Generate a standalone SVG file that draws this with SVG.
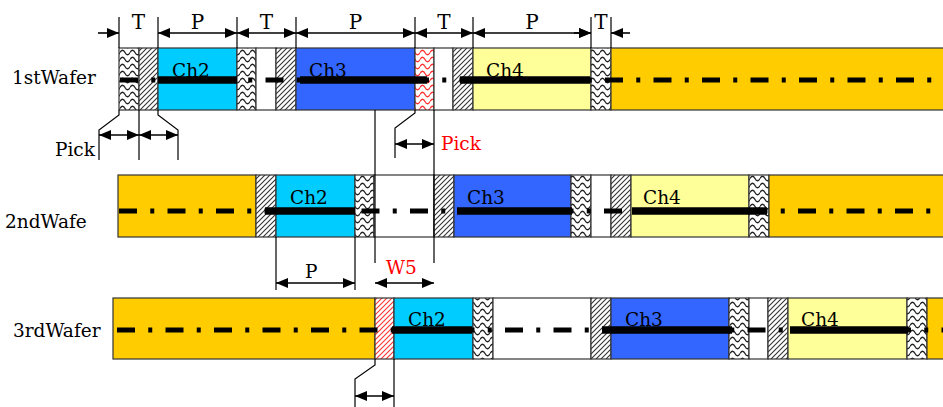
<svg xmlns="http://www.w3.org/2000/svg" width="943" height="407" viewBox="0 0 943 407">
<defs>
<pattern id="diag" patternUnits="userSpaceOnUse" width="5" height="5">
<rect width="5" height="5" fill="#fff"/>
<path d="M-1,1 L1,-1 M0,5 L5,0 M4,6 L6,4" stroke="#333" stroke-width="1.1"/>
</pattern>
<pattern id="diagRed" patternUnits="userSpaceOnUse" width="5" height="5">
<rect width="5" height="5" fill="#fff"/>
<path d="M-1,1 L1,-1 M0,5 L5,0 M4,6 L6,4" stroke="#f33" stroke-width="1.1"/>
</pattern>
<pattern id="wavy" patternUnits="userSpaceOnUse" width="10" height="7">
<rect width="10" height="7" fill="#fff"/>
<path d="M0,3.5 C1.5,0.5 3.5,0.5 5,3.5 C6.5,6.5 8.5,6.5 10,3.5" fill="none" stroke="#222" stroke-width="1.3"/>
</pattern>
<pattern id="wavyRed" patternUnits="userSpaceOnUse" width="10" height="7">
<rect width="10" height="7" fill="#fff"/>
<path d="M0,3.5 C1.5,0.5 3.5,0.5 5,3.5 C6.5,6.5 8.5,6.5 10,3.5" fill="none" stroke="#f33" stroke-width="1.3"/>
</pattern>
<marker id="ah" markerUnits="userSpaceOnUse" markerWidth="12" markerHeight="10" refX="12" refY="5" orient="auto-start-reverse">
<path d="M0,0 L12,5 L0,10 z" fill="#000"/>
</marker>
</defs>
<style>
.s{stroke:#333;stroke-width:1.2}
.w{fill:url(#wavy)}
.wr{fill:url(#wavyRed)}
.d{fill:url(#diag)}
.dr{fill:url(#diagRed)}
.cy{fill:#00CCFF}
.bl{fill:#3366FF}
.ye{fill:#FFFF99}
.or{fill:#FFCC00}
.wh{fill:#fff}
.dd{stroke:#000;stroke-width:5;stroke-dasharray:18 13.25 4 13.25;fill:none}
.bar{stroke:#000;stroke-width:7.5}
.t{font-family:"DejaVu Serif","Liberation Serif",serif;font-size:18.5px;fill:#000}
.tl{font-family:"DejaVu Serif","Liberation Serif",serif;font-size:20px;fill:#000;text-anchor:middle}
.red{fill:#FF0000}
.ln{stroke:#000;stroke-width:1.2;fill:none}
.ar{stroke:#000;stroke-width:1.6;fill:none;marker-end:url(#ah)}
.ar2{stroke:#000;stroke-width:1.6;fill:none;marker-start:url(#ah);marker-end:url(#ah)}
</style>
<rect width="943" height="407" fill="#fff"/>

<g id="labels">
<text class="t" x="12" y="84">1stWafer</text>
<text class="t" x="5" y="228">2ndWafe</text>
<text class="t" x="13" y="337">3rdWafer</text>
</g>

<g id="wafer1">
<rect class="s w" x="119" y="48" width="20" height="62"/>
<rect class="s d" x="139" y="48" width="19" height="62"/>
<g id="w1-ch2"><rect class="s cy" x="158" y="48" width="79" height="62"/><text class="t" x="172" y="77">Ch2</text></g>
<rect class="s w" x="237" y="48" width="19" height="62"/>
<rect class="s wh" x="256" y="48" width="20" height="62"/>
<rect class="s d" x="276" y="48" width="20" height="62"/>
<g id="w1-ch3"><rect class="s bl" x="296" y="48" width="119" height="62"/><text class="t" x="309" y="77">Ch3</text></g>
<rect class="s wr" x="415" y="48" width="19" height="62"/>
<rect class="s wh" x="434" y="48" width="19" height="62"/>
<rect class="s d" x="453" y="48" width="20" height="62"/>
<g id="w1-ch4"><rect class="s ye" x="473" y="48" width="118" height="62"/><text class="t" x="486" y="77">Ch4</text></g>
<rect class="s w" x="591" y="48" width="20" height="62"/>
<rect class="s or" x="611" y="48" width="334" height="62"/>
<line class="dd" x1="120" y1="80" x2="943" y2="80"/>
<line class="bar" x1="158" y1="80" x2="237" y2="80"/>
<line class="bar" x1="300" y1="80" x2="427" y2="80"/>
<line class="bar" x1="460" y1="80" x2="590" y2="80"/>
</g>

<g id="wafer2">
<rect class="s or" x="118" y="175" width="138" height="62"/>
<rect class="s d" x="256" y="175" width="20" height="62"/>
<g id="w2-ch2"><rect class="s cy" x="276" y="175" width="79" height="62"/><text class="t" x="290" y="204">Ch2</text></g>
<rect class="s w" x="355" y="175" width="19" height="62"/>
<rect class="s wh" x="374" y="175" width="60" height="62"/>
<rect class="s d" x="434" y="175" width="20" height="62"/>
<g id="w2-ch3"><rect class="s bl" x="454" y="175" width="117" height="62"/><text class="t" x="467" y="204">Ch3</text></g>
<rect class="s w" x="571" y="175" width="20" height="62"/>
<rect class="s wh" x="591" y="175" width="20" height="62"/>
<rect class="s d" x="611" y="175" width="20" height="62"/>
<g id="w2-ch4"><rect class="s ye" x="631" y="175" width="118" height="62"/><text class="t" x="643" y="204">Ch4</text></g>
<rect class="s w" x="749" y="175" width="20" height="62"/>
<rect class="s or" x="769" y="175" width="176" height="62"/>
<line class="dd" x1="119" y1="211" x2="943" y2="211"/>
<line class="bar" x1="265" y1="211" x2="355" y2="211"/>
<line class="bar" x1="457" y1="211" x2="572" y2="211"/>
<line class="bar" x1="632" y1="211" x2="767" y2="211"/>
</g>

<g id="wafer3">
<rect class="s or" x="113" y="298" width="262" height="61"/>
<rect class="s dr" x="375" y="298" width="19" height="61"/>
<g id="w3-ch2"><rect class="s cy" x="394" y="298" width="79" height="61"/><text class="t" x="408" y="326">Ch2</text></g>
<rect class="s w" x="473" y="298" width="20" height="61"/>
<rect class="s wh" x="493" y="298" width="98" height="61"/>
<rect class="s d" x="591" y="298" width="20" height="61"/>
<g id="w3-ch3"><rect class="s bl" x="611" y="298" width="118" height="61"/><text class="t" x="625" y="326">Ch3</text></g>
<rect class="s w" x="729" y="298" width="20" height="61"/>
<rect class="s wh" x="749" y="298" width="19" height="61"/>
<rect class="s d" x="768" y="298" width="20" height="61"/>
<g id="w3-ch4"><rect class="s ye" x="788" y="298" width="119" height="61"/><text class="t" x="801" y="326">Ch4</text></g>
<rect class="s w" x="907" y="298" width="20" height="61"/>
<rect class="s or" x="927" y="298" width="18" height="61"/>
<line class="dd" x1="117" y1="330" x2="943" y2="330"/>
<line class="bar" x1="392" y1="330" x2="472" y2="330"/>
<line class="bar" x1="602" y1="330" x2="732" y2="330"/>
<line class="bar" x1="790" y1="330" x2="908" y2="330"/>
</g>

<g id="connectors">
<path class="ln" d="M119,17V48 M158,17V48 M237,17V48 M296,17V48 M415,17V48 M473,17V48 M591,17V48 M611,17V48"/>
<line class="ar" x1="98" y1="33" x2="119" y2="33"/>
<line class="ar2" x1="158" y1="33" x2="237" y2="33"/>
<line class="ar2" x1="237" y1="33" x2="296" y2="33"/>
<line class="ar2" x1="296" y1="33" x2="415" y2="33"/>
<line class="ar2" x1="415" y1="33" x2="473" y2="33"/>
<line class="ar2" x1="473" y1="33" x2="591" y2="33"/>
<line class="ar" x1="574" y1="33" x2="591" y2="33"/>
<line class="ar" x1="630" y1="33" x2="611" y2="33"/>

<path class="ln" d="M119,110V115L99,130V160 M139,110V160 M158,110V115L178,130V160"/>
<line class="ar2" x1="99" y1="135" x2="139" y2="135"/>
<line class="ar2" x1="139" y1="135" x2="178" y2="135"/>

<path class="ln" d="M415,110V113L395,128V158 M434,110V263 M375,110V263"/>
<line class="ar2" x1="395" y1="144" x2="434" y2="144"/>

<path class="ln" d="M276,237V290 M355,237V290"/>
<line class="ar2" x1="276" y1="283" x2="355" y2="283"/>
<line class="ar2" x1="375" y1="283" x2="434" y2="283"/>

<path class="ln" d="M375,359V365L355,379V407 M394,359V407"/>
<line class="ar2" x1="355" y1="396" x2="394" y2="396"/>
</g>

<g id="dim-labels">
<text class="tl" x="138.5" y="29">T</text>
<text class="tl" x="197.5" y="29">P</text>
<text class="tl" x="266.5" y="29">T</text>
<text class="tl" x="355.5" y="29">P</text>
<text class="tl" x="444" y="29">T</text>
<text class="tl" x="532" y="29">P</text>
<text class="tl" x="601" y="29">T</text>
<text class="t" x="55" y="156">Pick</text>
<text class="t red" x="441" y="150">Pick</text>
<text class="t" x="305" y="278">P</text>
<text class="t red" x="386" y="274">W5</text>
</g>
</svg>
